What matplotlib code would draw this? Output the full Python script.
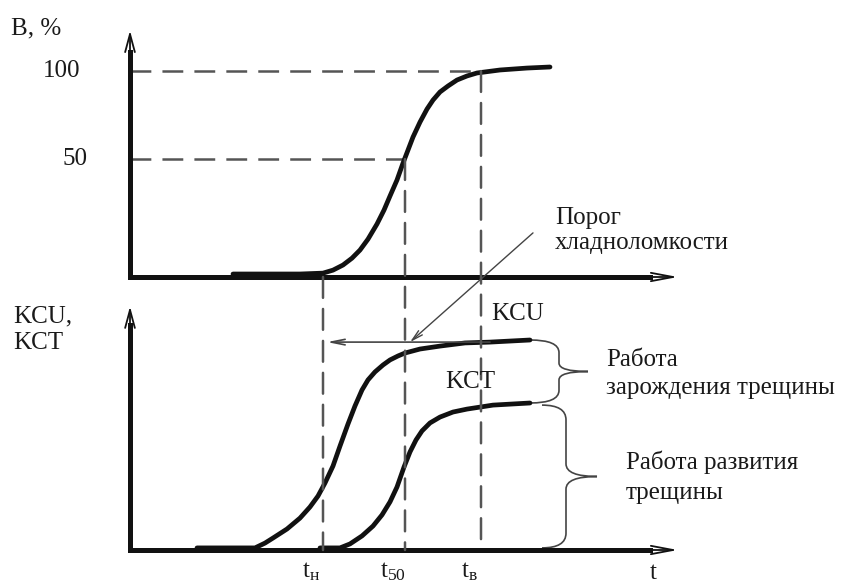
import matplotlib.pyplot as plt
from matplotlib.patches import ConnectionPatch, PathPatch
from matplotlib.path import Path

plt.rcParams['font.family'] = ['Liberation Serif', 'DejaVu Serif']
plt.rcParams['mathtext.fontset'] = 'custom'
plt.rcParams['mathtext.rm'] = 'Liberation Serif'
plt.rcParams['mathtext.it'] = 'Liberation Serif'
plt.rcParams['lines.scale_dashes'] = False

#----------------------------------------------------------------------------------------------------
# schematic data (t in arbitrary units)

# share of brittle fracture B, %
t_B = [1.03, 1.70, 1.93, 2.03, 2.13, 2.22, 2.30, 2.38, 2.47, 2.54, 2.60, 2.67, 2.73, 2.78, 2.83,
       2.90, 2.97, 3.03, 3.10, 3.18, 3.27, 3.37, 3.47, 3.70, 3.97, 4.20]
B = [-15.3, -15.3, -14.8, -13.1, -10.2, -6.3, -1.7, 4.5, 13.1, 21.0, 29.0, 38.1, 47.7, 55.1, 62.5,
     71.0, 78.4, 83.5, 88.1, 91.5, 94.9, 97.2, 98.9, 100.6, 101.7, 102.3]

# impact toughness KCU (relative units)
t_kcu = [0.67, 1.25, 1.35, 1.43, 1.57, 1.70, 1.80, 1.88, 1.95, 2.03, 2.10, 2.18, 2.25, 2.32, 2.38,
         2.45, 2.53, 2.60, 2.68, 2.75, 2.90, 3.10, 3.35, 3.60, 4.00]
kcu = [0.010, 0.010, 0.033, 0.057, 0.100, 0.152, 0.205, 0.257, 0.319, 0.400, 0.495, 0.600, 0.686,
       0.762, 0.810, 0.848, 0.881, 0.905, 0.924, 0.938, 0.957, 0.971, 0.986, 0.990, 1.000]

# impact toughness KCT (relative units)
t_kct = [1.90, 2.10, 2.20, 2.32, 2.43, 2.52, 2.60, 2.67, 2.74, 2.80, 2.86, 2.92, 3.00, 3.10, 3.23,
         3.37, 3.63, 4.00]
kct = [0.010, 0.010, 0.029, 0.067, 0.114, 0.167, 0.229, 0.300, 0.395, 0.467, 0.524, 0.567, 0.605,
       0.633, 0.657, 0.671, 0.690, 0.700]

# characteristic temperatures: lower, 50 %, upper
t_marks = [1.93, 2.75, 3.51]
t_subs = ['н', '50', 'в']
B_levels = [50, 100]
B_labels = ['50', '100']

#----------------------------------------------------------------------------------------------------
W, H = 843, 587


def fx(px):
    return px / W


def fy(py):
    return 1 - py / H


fig = plt.figure(figsize=(W / 100, H / 100), dpi=100)

# top panel: 1.76 px per %, 100 px per t unit
ax_top = fig.add_axes([fx(130), fy(277), 550 / W, 248.2 / H])
ax_top.set_xlim(0, 5.5)
ax_top.set_ylim(-17, 124)

# bottom panel: 210 px per unit
ax_bot = fig.add_axes([fx(130), fy(550), 550 / W, 250 / H])
ax_bot.set_xlim(0, 5.5)
ax_bot.set_ylim(0, 250 / 210)

axis_lw = 3.6
ink = '#111111'
dash_col = '#555555'
thin_col = '#444444'
dash = (0, (15, 8))

for ax, y_end, y_tip in [(ax_top, 110.8, 123.0), (ax_bot, 1.07, 1.16)]:
    ax.set_xticks([])
    ax.set_yticks([])
    ax.spines['top'].set_visible(False)
    ax.spines['right'].set_visible(False)
    ax.patch.set_visible(False)
    y0 = ax.get_ylim()[0]
    ax.spines['left'].set_bounds(y0, y_end)
    ax.spines['bottom'].set_bounds(0, 5.2)
    ax.spines['left'].set_linewidth(axis_lw)
    ax.spines['bottom'].set_linewidth(axis_lw)
    ax.spines['left'].set_color(ink)
    ax.spines['bottom'].set_color(ink)
    ax.annotate('', xy=(0, y_tip), xytext=(0, y_end - 0.02 * (y_tip - y0)),
                arrowprops=dict(arrowstyle='->,head_length=1.3,head_width=0.35',
                                lw=1.3, color=ink, shrinkA=0, shrinkB=0),
                annotation_clip=False)
    ax.annotate('', xy=(5.48, y0), xytext=(5.2, y0),
                arrowprops=dict(arrowstyle='->,head_length=1.6,head_width=0.3',
                                lw=1.3, color=ink, shrinkA=0, shrinkB=0),
                annotation_clip=False)

# dashed guides
ax_top.plot([0, t_marks[2]], [B_levels[1], B_levels[1]], ls=dash, lw=1.8, color=dash_col)
ax_top.plot([0, t_marks[1]], [B_levels[0], B_levels[0]], ls=dash, lw=1.8, color=dash_col)
for t, yA in zip(t_marks, [ax_top.get_ylim()[0], B_levels[0], B_levels[1]]):
    con = ConnectionPatch(xyA=(t, yA), coordsA=ax_top.transData,
                          xyB=(t, 0), coordsB=ax_bot.transData,
                          ls=dash, lw=1.8, color=dash_col)
    fig.add_artist(con)

# curves
curve_kw = dict(color=ink, lw=3.4, solid_joinstyle='round', solid_capstyle='round', clip_on=False)
ax_top.plot(t_B, B, **curve_kw)
ax_bot.plot(t_kcu, kcu, **curve_kw)
ax_bot.plot(t_kct, kct, **curve_kw)

# arrow from the KCU shelf to t_н and pointer of the threshold
ax_bot.annotate('', xy=(t_marks[0] + 0.04, 0.99), xytext=(3.6, 0.99),
                arrowprops=dict(arrowstyle='->,head_length=1.0,head_width=0.2',
                                lw=1.2, color=thin_col, shrinkA=0, shrinkB=0))
ax_bot.annotate('', xy=(2.80, 0.99), xytext=(4.03, 1.51),
                arrowprops=dict(arrowstyle='->,head_length=0.8,head_width=0.2',
                                lw=1.0, color=thin_col, shrinkA=0, shrinkB=0),
                annotation_clip=False)


def brace(ax, x0, x1, x2, y_top, y_bot, r_hook, r_tip):
    ym = (y_top + y_bot) / 2
    verts = [(x0, y_top), (x1, y_top), (x1, y_top - r_hook),
             (x1, ym + r_tip),
             (x1, ym), (x2, ym),
             (x1, ym), (x1, ym - r_tip),
             (x1, y_bot + r_hook),
             (x1, y_bot), (x0, y_bot)]
    codes = [Path.MOVETO, Path.CURVE3, Path.CURVE3,
             Path.LINETO,
             Path.CURVE3, Path.CURVE3,
             Path.CURVE3, Path.CURVE3,
             Path.LINETO,
             Path.CURVE3, Path.CURVE3]
    ax.add_patch(PathPatch(Path(verts, codes), fill=False, lw=1.2,
                           edgecolor=thin_col, clip_on=False))


brace(ax_bot, t_kcu[-1], 4.29, 4.58, kcu[-1], kct[-1], 0.06, 0.04)
brace(ax_bot, 4.12, 4.36, 4.67, kct[-1] - 0.01, 0.01, 0.07, 0.06)

# texts
fs = 18
tc = '#1a1a1a'
fig.text(fx(11), fy(28), 'В, %', fontsize=fs, color=tc, va='center')
ax_top.text(-0.5, B_levels[1], B_labels[1], fontsize=fs, color=tc, ha='right', va='center')
ax_top.text(-0.42, B_levels[0], B_labels[0], fontsize=fs, color=tc, ha='right', va='center')
fig.text(fx(13), fy(305), 'KCU,\nKCT', fontsize=fs, color=tc, va='top', linespacing=1.3)
fig.text(fx(555), fy(207), 'Порог\nхладноломкости', fontsize=fs, color=tc, va='top', linespacing=1.15)
fig.text(fx(491), fy(314), 'KCU', fontsize=fs, color=tc, va='center')
fig.text(fx(445), fy(382), 'KCT', fontsize=fs, color=tc, va='center')
fig.text(fx(606), fy(349), 'Работа\nзарождения трещины', fontsize=fs, color=tc, va='top', linespacing=1.35)
fig.text(fx(626), fy(451), 'Работа развития\nтрещины', fontsize=fs, color=tc, va='top', linespacing=1.45)
fig.text(fx(653), fy(573), 't', fontsize=fs, color=tc, ha='center', va='center')
for t, s in zip(t_marks, t_subs):
    ax_bot.text(t - 0.12, -0.05, '$\\mathrm{t}_{\\mathrm{' + s + '}}$', fontsize=fs,
                color=tc, ha='center', va='top')

fig.savefig('out.png', dpi=100)
